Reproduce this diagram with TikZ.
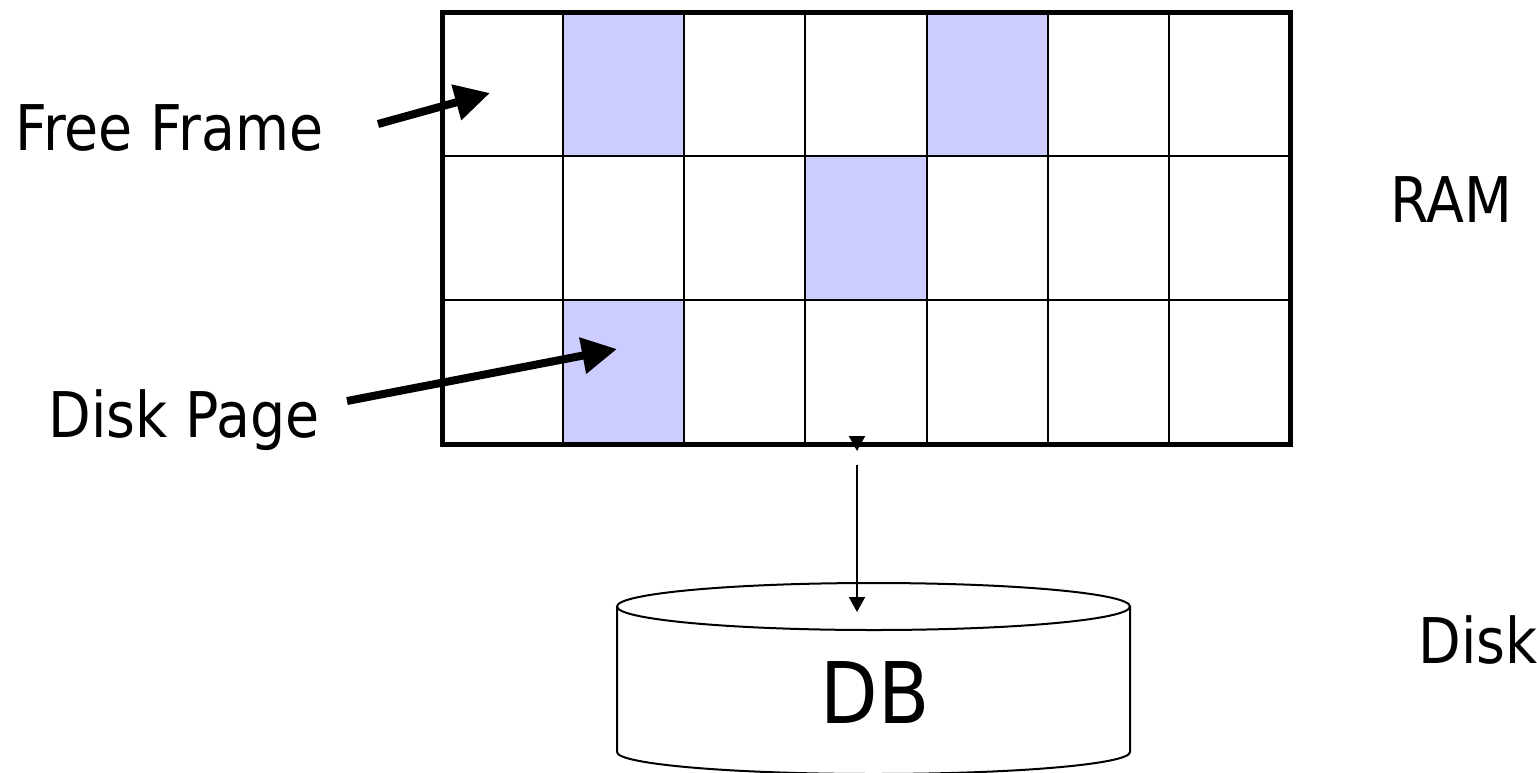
\documentclass[tikz,border=0pt]{standalone}
\usepackage{fontspec}
\setmainfont{DejaVu Sans}[FakeStretch=0.88]
\usetikzlibrary{arrows.meta}
\definecolor{cellblue}{HTML}{CCCCFF}
\tikzset{
  lbl/.style={anchor=base west, inner sep=0pt, font=\fontsize{31.5pt}{36pt}\selectfont},
  usedcell/.style={fill=cellblue, draw=none},
  thickarrow/.style={line width=4pt, -{Triangle[length=17.5pt,width=17.5pt]}},
  thinarrow/.style={line width=1pt, -{Triangle[length=7.5pt,width=8pt]}},
}
\begin{document}
\begin{tikzpicture}[x=0.5pt,y=-0.5pt]
\useasboundingbox (0,0) rectangle (1537,772);
% shaded frames
\path[usedcell] (563.1,12) rectangle (684.3,156.2);
\path[usedcell] (926.6,12) rectangle (1047.7,156.2);
\path[usedcell] (805.4,156.2) rectangle (926.6,300.3);
\path[usedcell] (563.1,300.3) rectangle (684.3,444.5);
% grid lines
\foreach \x in {563.1,684.3,805.4,926.6,1047.7,1168.9}
  \draw[line width=1pt] (\x,12) -- (\x,444.5);
\foreach \y in {156.2,300.3}
  \draw[line width=1pt] (442,\y) -- (1290,\y);
\draw[line width=2.5pt] (442,12) rectangle (1290,444.5);
\coordinate (ramtop) at (857,436);
\coordinate (rambot) at (857,451);
% labels
\node[lbl] (ff) at (15,150) {Free Frame};
\node[lbl] (dp) at (48,437) {Disk Page};
\node[lbl] (ram) at (1390,222) {RAM};
\node[lbl] (disk) at (1418,663) {Disk};
% cylinder
\draw[line width=1pt] (873.5,606.5) ellipse [x radius=128.25pt, y radius=11.75pt];
\draw[line width=1pt] (617,606.5) -- (617,752) arc[start angle=180, end angle=360, x radius=128.25pt, y radius=11pt] -- (1130,606.5);
\node[anchor=base, inner sep=0pt, font=\fontsize{42.5pt}{48pt}\selectfont] (db) at (875,723) {DB};
% arrows
\coordinate (ffA) at (378,124);
\coordinate (ffB) at (490,93);
\coordinate (dpA) at (347,401);
\coordinate (dpB) at (617,349);
\coordinate (vA) at (857,465);
\coordinate (vB) at (857,612);
\draw[thickarrow] (ffA) -- (ffB);
\draw[thickarrow] (dpA) -- (dpB);
\draw[thinarrow] (ramtop) -- (rambot);
\draw[thinarrow] (vA) -- (vB);
\end{tikzpicture}
\end{document}
